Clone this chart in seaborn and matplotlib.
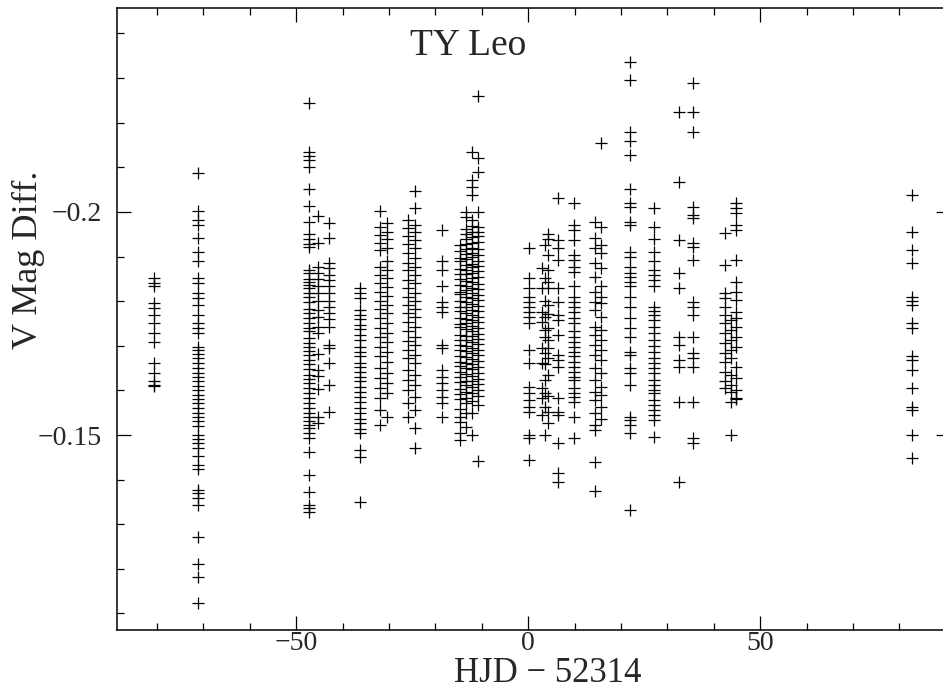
import pandas as pd
import matplotlib
matplotlib.use("Agg")
import matplotlib.pyplot as plt
import seaborn as sns
from matplotlib.ticker import MultipleLocator

# HJD - 52314 of each night and V magnitude differences
t_a = -80.6
v_a = [-0.1851, -0.1841, -0.1833, -0.1795, -0.1784, -0.1769, -0.1750, -0.1729,
       -0.1709, -0.1661, -0.1640, -0.1620, -0.1610, -0.1612]

t_b = -71.1
v_b = [-0.2088, -0.2001, -0.1982, -0.1971, -0.1941, -0.1911, -0.1889, -0.1851,
       -0.1840, -0.1818, -0.1807, -0.1791, -0.1769, -0.1750, -0.1739, -0.1729,
       -0.1698, -0.1691, -0.1682, -0.1672, -0.1661, -0.1650, -0.1640, -0.1631,
       -0.1620, -0.1610, -0.1601, -0.1590, -0.1580, -0.1571, -0.1560, -0.1549,
       -0.1541, -0.1532, -0.1520, -0.1500, -0.1490, -0.1481, -0.1470, -0.1453,
       -0.1433, -0.1423, -0.1377, -0.1369, -0.1358, -0.1343, -0.1272, -0.1212,
       -0.1182, -0.1123]

t_c = -47.3
v_c = [-0.2245, -0.2135, -0.2126, -0.2117, -0.2100, -0.2051, -0.2013, -0.1978,
       -0.1951, -0.1939, -0.1928, -0.1921, -0.1870, -0.1863, -0.1849, -0.1844,
       -0.1836, -0.1829, -0.1818, -0.1810, -0.1799, -0.1782, -0.1773, -0.1762,
       -0.1752, -0.1739, -0.1732, -0.1717, -0.1706, -0.1698, -0.1689, -0.1679,
       -0.1668, -0.1659, -0.1647, -0.1635, -0.1625, -0.1616, -0.1605, -0.1594,
       -0.1582, -0.1572, -0.1560, -0.1549, -0.1541, -0.1532, -0.1522, -0.1515,
       -0.1504, -0.1493, -0.1463, -0.1410, -0.1373, -0.1343, -0.1336, -0.1328]

t_d = -45.2
v_d = [-0.1991, -0.1930, -0.1877, -0.1863, -0.1849, -0.1834, -0.1818, -0.1801,
       -0.1780, -0.1764, -0.1743, -0.1728, -0.1682, -0.1646, -0.1632, -0.1602,
       -0.1541, -0.1528]

t_e = -43.0
v_e = [-0.1976, -0.1941, -0.1886, -0.1874, -0.1859, -0.1848, -0.1833, -0.1818,
       -0.1801, -0.1788, -0.1773, -0.1759, -0.1743, -0.1702, -0.1694, -0.1661,
       -0.1612, -0.1552]

t_f = -36.2
v_f = [-0.1829, -0.1818, -0.1807, -0.1780, -0.1769, -0.1759, -0.1747, -0.1737,
       -0.1724, -0.1713, -0.1698, -0.1687, -0.1676, -0.1662, -0.1653, -0.1642,
       -0.1631, -0.1620, -0.1608, -0.1597, -0.1586, -0.1575, -0.1560, -0.1549,
       -0.1537, -0.1526, -0.1513, -0.1504, -0.1466, -0.1451, -0.1350]

t_g1 = -31.9
v_g1 = [-0.2001, -0.1966, -0.1948, -0.1930, -0.1915, -0.1877, -0.1859, -0.1840,
        -0.1821, -0.1801, -0.1782, -0.1762, -0.1739, -0.1720, -0.1698, -0.1676,
        -0.1650, -0.1627, -0.1605, -0.1582, -0.1556, -0.1522]
t_g2 = -30.4
v_g2 = [-0.1975, -0.1956, -0.1939, -0.1919, -0.1889, -0.1870, -0.1851, -0.1831,
        -0.1812, -0.1791, -0.1773, -0.1750, -0.1728, -0.1709, -0.1687, -0.1664,
        -0.1638, -0.1616, -0.1594, -0.1541]

t_h1 = -25.9
v_h1 = [-0.1982, -0.1963, -0.1946, -0.1928, -0.1907, -0.1885, -0.1870, -0.1848,
        -0.1829, -0.1810, -0.1791, -0.1773, -0.1754, -0.1732, -0.1711, -0.1691,
        -0.1672, -0.1646, -0.1623, -0.1601, -0.1571, -0.1541]
t_h2 = -24.4
v_h2 = [-0.2046, -0.2008, -0.1971, -0.1956, -0.1937, -0.1919, -0.1896, -0.1877,
        -0.1859, -0.1840, -0.1819, -0.1801, -0.1782, -0.1764, -0.1743, -0.1720,
        -0.1702, -0.1679, -0.1661, -0.1635, -0.1612, -0.1586, -0.1556, -0.1515,
        -0.1470]

t_i = -18.6
v_i = [-0.1960, -0.1889, -0.1870, -0.1833, -0.1799, -0.1788, -0.1776, -0.1702,
       -0.1694, -0.1646, -0.1631, -0.1616, -0.1601, -0.1586, -0.1571, -0.1541]

t_j1 = -14.6
v_j1 = [-0.1925, -0.1912, -0.1897, -0.1889, -0.1872, -0.1861, -0.1850, -0.1836,
        -0.1821, -0.1815, -0.1800, -0.1786, -0.1779, -0.1762, -0.1748, -0.1741,
        -0.1725, -0.1713, -0.1702, -0.1690, -0.1676, -0.1664, -0.1655, -0.1641,
        -0.1630, -0.1618, -0.1603, -0.1592, -0.1580, -0.1558, -0.1540, -0.1529,
        -0.1504, -0.1489]
t_j2 = -13.4
v_j2 = [-0.2000, -0.1989, -0.1962, -0.1951, -0.1940, -0.1928, -0.1918, -0.1905,
        -0.1894, -0.1882, -0.1870, -0.1860, -0.1846, -0.1833, -0.1824, -0.1810,
        -0.1797, -0.1788, -0.1774, -0.1760, -0.1751, -0.1737, -0.1723, -0.1712,
        -0.1699, -0.1688, -0.1675, -0.1662, -0.1650, -0.1637, -0.1622, -0.1611,
        -0.1597, -0.1584, -0.1571, -0.1550, -0.1518]
t_j3 = -12.1
v_j3 = [-0.2135, -0.2072, -0.2056, -0.2038, -0.1982, -0.1968, -0.1955, -0.1943,
        -0.1931, -0.1920, -0.1907, -0.1898, -0.1884, -0.1876, -0.1864, -0.1851,
        -0.1842, -0.1829, -0.1818, -0.1806, -0.1793, -0.1781, -0.1770, -0.1758,
        -0.1745, -0.1734, -0.1722, -0.1708, -0.1696, -0.1683, -0.1671, -0.1660,
        -0.1647, -0.1633, -0.1620, -0.1608, -0.1595, -0.1576, -0.1549, -0.1500]
t_j4 = -10.9
v_j4 = [-0.2260, -0.2121, -0.2090, -0.2000, -0.1966, -0.1955, -0.1945, -0.1933,
        -0.1916, -0.1903, -0.1890, -0.1878, -0.1867, -0.1855, -0.1839, -0.1827,
        -0.1813, -0.1802, -0.1790, -0.1777, -0.1765, -0.1753, -0.1739, -0.1727,
        -0.1716, -0.1703, -0.1691, -0.1679, -0.1666, -0.1652, -0.1640, -0.1626,
        -0.1614, -0.1600, -0.1588, -0.1568, -0.1442]

t_k = 0.2
v_k = [-0.1919, -0.1851, -0.1829, -0.1810, -0.1799, -0.1788, -0.1776, -0.1765,
       -0.1750, -0.1691, -0.1662, -0.1608, -0.1594, -0.1579, -0.1563, -0.1552,
       -0.1500, -0.1493, -0.1444]

t_l1 = 3.0
v_l1 = [-0.1874, -0.1829, -0.1776, -0.1754, -0.1694, -0.1662, -0.1605, -0.1582,
        -0.1545]
t_l2 = 3.7
v_l2 = [-0.1926, -0.1851, -0.1800, -0.1765, -0.1736, -0.1720, -0.1683, -0.1660,
        -0.1623, -0.1594, -0.1563, -0.1500]
t_l3 = 4.3
v_l3 = [-0.1951, -0.1939, -0.1904, -0.1870, -0.1844, -0.1830, -0.1791, -0.1771,
        -0.1739, -0.1712, -0.1696, -0.1672, -0.1634, -0.1587, -0.1552, -0.1528]

t_m = 6.5
v_m = [-0.2031, -0.1937, -0.1919, -0.1892, -0.1829, -0.1799, -0.1769, -0.1758,
       -0.1724, -0.1679, -0.1668, -0.1653, -0.1582, -0.1552, -0.1545, -0.1481,
       -0.1414, -0.1395]

t_n = 9.8
v_n = [-0.2020, -0.1971, -0.1960, -0.1937, -0.1904, -0.1892, -0.1877, -0.1866,
       -0.1833, -0.1810, -0.1799, -0.1788, -0.1776, -0.1762, -0.1750, -0.1732,
       -0.1720, -0.1709, -0.1698, -0.1687, -0.1676, -0.1664, -0.1653, -0.1642,
       -0.1631, -0.1623, -0.1605, -0.1594, -0.1586, -0.1575, -0.1541, -0.1493]

t_o1 = 14.5
v_o1 = [-0.1978, -0.1941, -0.1919, -0.1885, -0.1855, -0.1821, -0.1799, -0.1780,
        -0.1743, -0.1724, -0.1702, -0.1679, -0.1650, -0.1623, -0.1597, -0.1579,
        -0.1549, -0.1522, -0.1511, -0.1440, -0.1375]
t_o2 = 15.6
v_o2 = [-0.2155, -0.1967, -0.1926, -0.1907, -0.1874, -0.1833, -0.1810, -0.1796,
        -0.1765, -0.1735, -0.1713, -0.1691, -0.1668, -0.1638, -0.1608, -0.1590,
        -0.1563, -0.1537]

t_p = 22.0
v_p = [-0.2335, -0.2296, -0.2180, -0.2158, -0.2128, -0.2051, -0.2020, -0.2012,
       -0.1978, -0.1971, -0.1911, -0.1900, -0.1877, -0.1863, -0.1854, -0.1844,
       -0.1833, -0.1810, -0.1788, -0.1762, -0.1739, -0.1720, -0.1687, -0.1679,
       -0.1650, -0.1638, -0.1612, -0.1541, -0.1534, -0.1522, -0.1504, -0.1332]

t_q = 27.2
v_q = [-0.2008, -0.1967, -0.1939, -0.1911, -0.1891, -0.1870, -0.1859, -0.1848,
       -0.1833, -0.1788, -0.1779, -0.1769, -0.1758, -0.1743, -0.1728, -0.1713,
       -0.1700, -0.1687, -0.1672, -0.1662, -0.1650, -0.1638, -0.1623, -0.1612,
       -0.1601, -0.1594, -0.1579, -0.1567, -0.1556, -0.1545, -0.1534, -0.1496]

t_r = 32.4
v_r = [-0.2225, -0.2068, -0.1937, -0.1863, -0.1829, -0.1720, -0.1702, -0.1668,
       -0.1653, -0.1575, -0.1395]

t_s = 35.6
v_s = [-0.2289, -0.2225, -0.2180, -0.2012, -0.1993, -0.1986, -0.1931, -0.1922,
       -0.1892, -0.1799, -0.1788, -0.1769, -0.1720, -0.1683, -0.1672, -0.1653,
       -0.1575, -0.1493, -0.1481]

t_t1 = 42.5
v_t1 = [-0.1952, -0.1881, -0.1818, -0.1807, -0.1788, -0.1769, -0.1750, -0.1728,
        -0.1706, -0.1683, -0.1664, -0.1642, -0.1620, -0.1605]
t_t2 = 43.7
v_t2 = [-0.1758, -0.1735, -0.1713, -0.1691, -0.1672, -0.1635, -0.1612, -0.1597,
        -0.1575, -0.1500]
t_t3 = 44.7
v_t3 = [-0.2020, -0.2008, -0.1997, -0.1971, -0.1960, -0.1892, -0.1844, -0.1821,
        -0.1803, -0.1776, -0.1762, -0.1743, -0.1720, -0.1698, -0.1653, -0.1627,
        -0.1601, -0.1582, -0.1580]

t_u = 82.8
v_u = [-0.2038, -0.1956, -0.1915, -0.1885, -0.1810, -0.1801, -0.1791, -0.1750,
       -0.1739, -0.1676, -0.1668, -0.1646, -0.1605, -0.1563, -0.1555, -0.1500,
       -0.1448]

nights = [(t_a, v_a), (t_b, v_b), (t_c, v_c), (t_d, v_d), (t_e, v_e),
          (t_f, v_f), (t_g1, v_g1), (t_g2, v_g2), (t_h1, v_h1), (t_h2, v_h2),
          (t_i, v_i), (t_j1, v_j1), (t_j2, v_j2), (t_j3, v_j3), (t_j4, v_j4),
          (t_k, v_k), (t_l1, v_l1), (t_l2, v_l2), (t_l3, v_l3), (t_m, v_m),
          (t_n, v_n), (t_o1, v_o1), (t_o2, v_o2), (t_p, v_p), (t_q, v_q),
          (t_r, v_r), (t_s, v_s), (t_t1, v_t1), (t_t2, v_t2), (t_t3, v_t3),
          (t_u, v_u)]

df = pd.concat([pd.DataFrame({"hjd": t, "vmag": v}) for t, v in nights],
               ignore_index=True)

sns.set_style("ticks")
plt.rcParams["font.family"] = ["Liberation Serif", "DejaVu Serif"]

fig = plt.figure(figsize=(9.43, 6.91), dpi=100)
ax = fig.add_axes([117 / 943, 61 / 691, 833 / 943, 622 / 691])

sns.scatterplot(data=df, x="hjd", y="vmag", marker="+", color="black",
                s=80, linewidth=0.9, ax=ax, legend=False)

ax.set_xlim(-88.6, 90.9)
ax.set_ylim(-0.1063, -0.2457)  # magnitudes: brighter upward

ax.xaxis.set_major_locator(MultipleLocator(50))
ax.xaxis.set_minor_locator(MultipleLocator(10))
ax.yaxis.set_major_locator(MultipleLocator(0.05))
ax.yaxis.set_minor_locator(MultipleLocator(0.01))
fmt = plt.FuncFormatter(lambda v, p: f"{v:g}".replace("-", "\u2212"))
ax.xaxis.set_major_formatter(fmt)
ax.yaxis.set_major_formatter(fmt)

ax.tick_params(which="both", direction="in", top=True, right=True,
               width=0.9, color="black", labelsize=20)
ax.tick_params(which="major", length=10)
ax.tick_params(which="minor", length=5)
ax.tick_params(axis="x", pad=1)
ax.tick_params(axis="y", pad=11)
for sp in ax.spines.values():
    sp.set_linewidth(1.1)
    sp.set_color("black")

ax.set_xlabel("HJD \u2212 52314", fontsize=25)
ax.set_ylabel("V Mag Diff.", fontsize=26)
ax.xaxis.set_label_coords(0.517, -0.0435)
ax.yaxis.set_label_coords(-0.087, 0.595)
ax.text(0.421, 0.94, "TY Leo", transform=ax.transAxes, fontsize=27,
        ha="center", va="center")

fig.savefig("out.png", dpi=100)
